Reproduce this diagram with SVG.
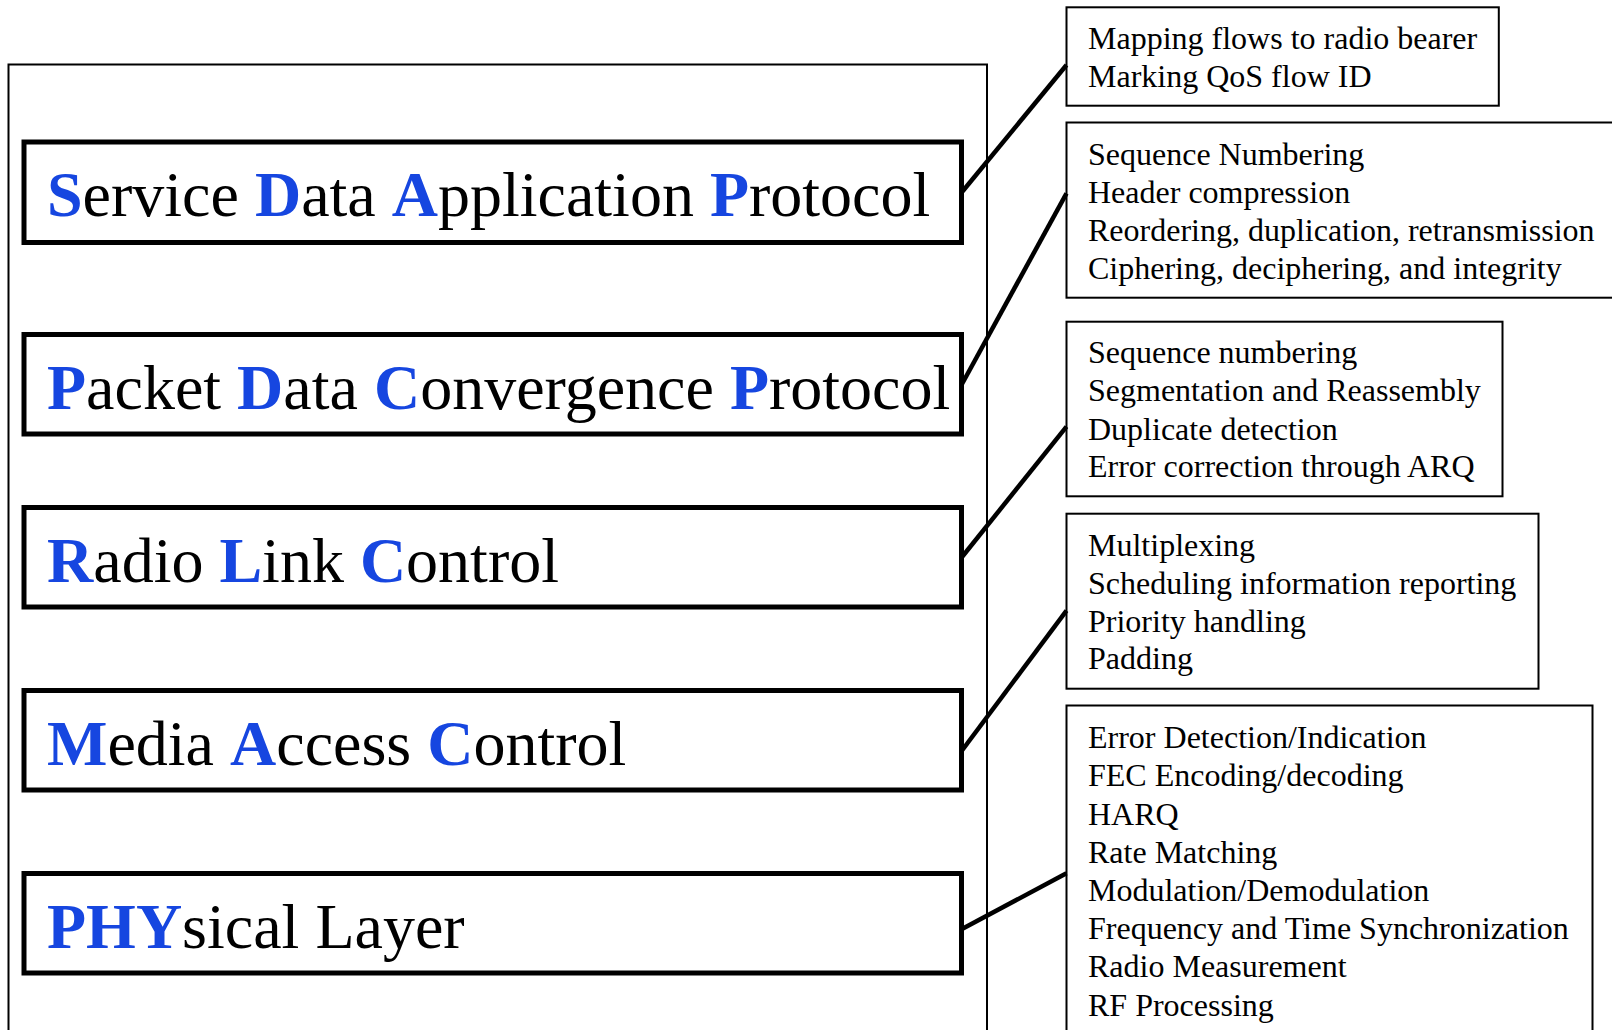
<svg xmlns="http://www.w3.org/2000/svg" width="1612" height="1030" viewBox="0 0 1612 1030">
<style>
.layer{fill:#fff;stroke:#000;stroke-width:5}
.fn{fill:#fff;stroke:#000;stroke-width:2}
.lt{font-family:"Liberation Serif","Times New Roman",serif;font-size:64px;fill:#000}
.b{fill:#1646e0;font-weight:bold}
.ft{font-family:"Liberation Serif","Times New Roman",serif;font-size:32px;fill:#000}
.con{stroke:#000;stroke-width:4.5;fill:none}
</style>
<rect width="1612" height="1030" fill="#fff"/>
<rect id="stack" x="8.5" y="64.5" width="978.5" height="1000" fill="none" stroke="#000" stroke-width="2"/>
<g id="sdap"><rect class="layer" x="24" y="142" width="937.5" height="100.5"/><text class="lt" x="47" y="216"><tspan class="b">S</tspan>ervice <tspan class="b">D</tspan>ata <tspan class="b">A</tspan>pplication <tspan class="b">P</tspan>rotocol</text></g>
<g id="pdcp"><rect class="layer" x="24" y="334.5" width="937.5" height="99.5"/><text class="lt" x="47" y="408.5"><tspan class="b">P</tspan>acket <tspan class="b">D</tspan>ata <tspan class="b">C</tspan>onvergence <tspan class="b">P</tspan>rotocol</text></g>
<g id="rlc"><rect class="layer" x="24" y="507.5" width="937.5" height="99.5"/><text class="lt" x="47" y="581.5"><tspan class="b">R</tspan>adio <tspan class="b">L</tspan>ink <tspan class="b">C</tspan>ontrol</text></g>
<g id="mac"><rect class="layer" x="24" y="690.5" width="937.5" height="99.5"/><text class="lt" x="47" y="764.5"><tspan class="b">M</tspan>edia <tspan class="b">A</tspan>ccess <tspan class="b">C</tspan>ontrol</text></g>
<g id="phy"><rect class="layer" x="24" y="873.5" width="937.5" height="99.5"/><text class="lt" x="47" y="947.5"><tspan class="b">PHY</tspan>sical Layer</text></g>
<g id="f-sdap"><rect class="fn" x="1066.5" y="7.3" width="432.3" height="98.4"/><text class="ft" x="1088" y="49">Mapping flows to radio bearer</text><text class="ft" x="1088" y="87.3">Marking QoS flow ID</text></g>
<g id="f-pdcp"><rect class="fn" x="1066.5" y="122.5" width="560" height="175.2"/><text class="ft" x="1088" y="165">Sequence Numbering</text><text class="ft" x="1088" y="203">Header compression</text><text class="ft" x="1088" y="241">Reordering, duplication, retransmission</text><text class="ft" x="1088" y="278.8">Ciphering, deciphering, and integrity</text></g>
<g id="f-rlc"><rect class="fn" x="1066.5" y="321.7" width="436" height="174.6"/><text class="ft" x="1088" y="363">Sequence numbering</text><text class="ft" x="1088" y="401.3">Segmentation and Reassembly</text><text class="ft" x="1088" y="439.5">Duplicate detection</text><text class="ft" x="1088" y="477.4">Error correction through ARQ</text></g>
<g id="f-mac"><rect class="fn" x="1066.5" y="513.7" width="472" height="175"/><text class="ft" x="1088" y="555.7">Multiplexing</text><text class="ft" x="1088" y="594">Scheduling information reporting</text><text class="ft" x="1088" y="631.5">Priority handling</text><text class="ft" x="1088" y="669.2">Padding</text></g>
<g id="f-phy"><rect class="fn" x="1066.5" y="705.5" width="526" height="360"/><text class="ft" x="1088" y="748">Error Detection/Indication</text><text class="ft" x="1088" y="786.4">FEC Encoding/decoding</text><text class="ft" x="1088" y="824.5">HARQ</text><text class="ft" x="1088" y="862.9">Rate Matching</text><text class="ft" x="1088" y="901.2">Modulation/Demodulation</text><text class="ft" x="1088" y="939.1">Frequency and Time Synchronization</text><text class="ft" x="1088" y="977.3">Radio Measurement</text><text class="ft" x="1088" y="1015.5">RF Processing</text></g>
<g id="connectors"><line class="con" x1="962" y1="192" x2="1066.5" y2="65"/><line class="con" x1="962" y1="384" x2="1066.5" y2="193.3"/><line class="con" x1="962" y1="557" x2="1066.5" y2="426.7"/><line class="con" x1="962" y1="750.5" x2="1066.5" y2="610.7"/><line class="con" x1="962" y1="929" x2="1066.5" y2="873.3"/></g>
</svg>
